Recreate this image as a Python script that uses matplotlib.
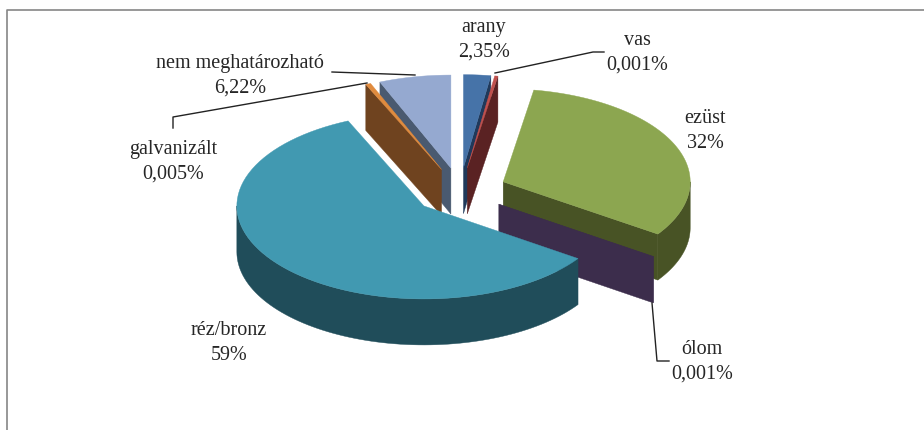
import matplotlib.pyplot as plt
import numpy as np

# adatok
labels = ['arany', 'vas', 'ezüst', 'ólom', 'réz/bronz', 'galvanizált', 'nem meghatározható']
values = [2.35, 0.001, 32, 0.001, 59, 0.005, 6.22]
value_texts = ['2,35%', '0,001%', '32%', '0,001%', '59%', '0,005%', '6,22%']

top_colors = ['#4673A8', '#C0504D', '#8CA650', '#3C2D4C', '#4199B1', '#E08B3E', '#95A9D0']
cut_colors = ['#20395A', '#5A2223', '#485325', '#3C2D4C', '#204D5A', '#6F431F', '#4A5A70']

# a kicsi szeletek nem latszanának, minimum szelesseg foknyi
min_sweep = [0, 1.0, 0, 0.25, 0, 1.6, 0]

label_pos = [(484, 27.5), (637, 40.5), (705, 118.5), (702, 349.5), (229, 330.5), (173, 149.5), (240, 63.5)]
value_gap = 25

cx, cy = 460, 191
rx, ry = 187, 93
depth = 46
explode = 47

sweeps = np.array(values) / sum(values) * 360
sweeps = np.maximum(sweeps, min_sweep)
sweeps = sweeps / sweeps.sum() * 360
ends = np.cumsum(sweeps)
starts = ends - sweeps

fig = plt.figure(figsize=(9.24, 4.3), dpi=100)
ax = fig.add_axes([0, 0, 1, 1])
ax.set_xlim(0, 924)
ax.set_ylim(430, 0)
ax.axis('off')


def arc(ox, oy, a0, a1):
    t = np.radians(np.linspace(a0, a1, 80))
    return np.column_stack([ox + rx * np.sin(t), oy - ry * np.cos(t)])


def origin(a0, a1):
    mid = np.radians((a0 + a1) / 2)
    return cx + explode * np.sin(mid), cy - explode * ry / rx * np.cos(mid)


def cut_face(ox, oy, a, color, z):
    p = arc(ox, oy, a, a)[0]
    pts = [(ox, oy), p, (p[0], p[1] + depth), (ox, oy + depth)]
    ax.fill(*zip(*pts), color=color, lw=0.3, zorder=z)


for i in range(len(values)):
    a0, a1 = starts[i], ends[i]
    ox, oy = origin(a0, a1)
    z = [3, 4, 5, 6, 7, 2, 1][i]
    # oldalfal csak elol latszik
    w0, w1 = max(a0, 90), min(a1, 270)
    if w1 > w0:
        up = arc(ox, oy, w0, w1)
        down = up[::-1] + [0, depth]
        ax.fill(*np.vstack([up, down]).T, color=cut_colors[i], lw=0.3, zorder=z)
    if 0 < a1 < 180:
        cut_face(ox, oy, a1, cut_colors[i], z)
    if 180 < a0 < 360:
        cut_face(ox, oy, a0, cut_colors[i], z)
    top = np.vstack([[ox, oy], arc(ox, oy, a0, a1)])
    ax.fill(*top.T, color=top_colors[i], lw=0.3, zorder=z + 0.5)

for i in range(len(labels)):
    x, y = label_pos[i]
    ax.text(x, y, labels[i], ha='center', va='center', fontsize=14.5,
            family='Liberation Serif', color='#262626', zorder=10)
    ax.text(x, y + value_gap, value_texts[i], ha='center', va='center', fontsize=14.5,
            family='Liberation Serif', color='#262626', zorder=10)

# vezetovonalak
ax.plot([332, 415], [72, 75], color='#222222', lw=1, zorder=9)
ax.plot([173, 173, 367], [128, 117, 83], color='#222222', lw=1, zorder=9)
ax.plot([495, 593, 604], [73, 52, 52], color='#222222', lw=1, zorder=9)
ax.plot([652, 657, 669], [303, 361, 361], color='#222222', lw=1, zorder=9)

# keret
ax.plot([7, 7, 925], [431, 9.5, 9.5], color='#868686', lw=1.2, zorder=0)

fig.savefig('out.png', dpi=100)
